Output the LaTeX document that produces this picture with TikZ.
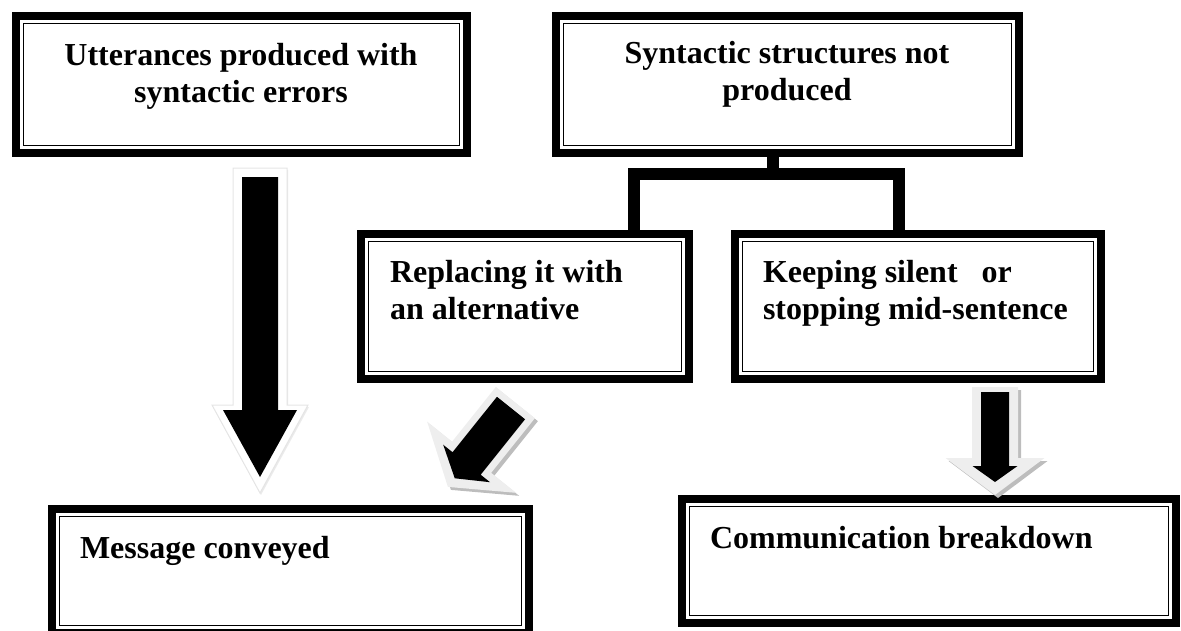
\documentclass[tikz,border=0pt]{standalone}
\usepackage{fontspec}
\setmainfont{Liberation Serif}
\usepackage{tikz}
\usetikzlibrary{positioning}

\definecolor{glowgray}{HTML}{EEEEEE}
\definecolor{shadegray}{HTML}{BDBDBD}

\tikzset{
  box/.style={draw, line width=8pt, inner sep=0pt, outer sep=0pt,
    path picture={\draw[line width=1.6pt]
      ([shift={(7.5pt,-7.5pt)}]path picture bounding box.north west) rectangle
      ([shift={(-7.5pt,7.5pt)}]path picture bounding box.south east);}},
  txt/.style={font=\bfseries\fontsize{32}{37}\selectfont, inner sep=0pt, outer sep=0pt},
  bar/.style={line width=12pt, line join=miter},
}

% block arrow: half shaft, top, head base, half head, tip
\newcommand{\blockarrow}[6][]{%
  \path[#1] (-#2,#3) -- (#2,#3) -- (#2,#4) -- (#5,#4) -- (0,#6)
    -- (-#5,#4) -- (-#2,#4) -- cycle;}

\begin{document}
\begin{tikzpicture}[x=1pt, y=-1pt]
  \useasboundingbox (0,0) rectangle (1181,630);
  \clip (0,0) rectangle (1181,630);

  \node[box, minimum width=451pt, minimum height=137pt] (utter) at (241.5,84.5) {};
  \node[box, minimum width=463pt, minimum height=137pt] (syn)   at (787.5,84.5) {};
  \node[box, minimum width=328pt, minimum height=145pt] (repl)  at (525,306.5)  {};
  \node[box, minimum width=366pt, minimum height=145pt] (keep)  at (918,306.5)  {};
  \node[box, minimum width=477pt, minimum height=124pt] (msg)   at (290.5,571)  {};
  \node[box, minimum width=494pt, minimum height=124pt] (comm)  at (929,561)    {};

  \node[txt, align=center, anchor=base]      (uttertxt) at (241,102) {Utterances produced with\\syntactic errors};
  \node[txt, align=center, anchor=base]      (syntxt)   at (787,100) {Syntactic structures not\\produced};
  \node[txt, align=left,   anchor=base west] (repltxt)  at (390,319) {Replacing it with\\an alternative};
  \node[txt, align=left,   anchor=base west] (keeptxt)  at (763,319) {Keeping silent\ \ \ or\\stopping mid-sentence};
  \node[txt, anchor=base west] (msgtxt)  at (80,558)  {Message conveyed};
  \node[txt, anchor=base west] (commtxt) at (710,548) {Communication breakdown};

  \coordinate (fork) at (773,173.5);
  \coordinate (lft)  at (634,173.5);
  \coordinate (rgt)  at (899,173.5);
  \draw[bar] (syn.south -| fork) -- (fork);
  \draw[bar] (repl.north -| lft) |- (rgt) -- (keep.north -| rgt);

  \begin{scope}[shift={(261,2)}]
    \blockarrow[fill=black!8]{27}{168}{405}{48}{493}
  \end{scope}
  \begin{scope}[shift={(260,0)}]
    \blockarrow[fill=white, draw=black!10, line width=1pt]{27}{168}{405}{48}{493}
    \blockarrow[fill=black]{18}{177}{410}{37}{477}
  \end{scope}

  \begin{scope}[shift={(514,411)}, x={(0.781pt,-0.625pt)}, y={(-0.625pt,-0.781pt)}]
    \blockarrow[fill=shadegray]{25}{-7}{63}{57}{101}
  \end{scope}
  \begin{scope}[shift={(511,408)}, x={(0.781pt,-0.625pt)}, y={(-0.625pt,-0.781pt)}]
    \blockarrow[fill=glowgray]{25}{-7}{63}{57}{101}
    \blockarrow[fill=black]{18}{0}{71}{30}{90}
  \end{scope}

  \begin{scope}[shift={(998,3)}]
    \blockarrow[fill=shadegray]{23}{387}{458}{49.5}{495}
  \end{scope}
  \begin{scope}[shift={(995,0)}]
    \blockarrow[fill=glowgray]{23}{387}{458}{49.5}{495}
    \blockarrow[fill=black]{14}{392}{466}{22.5}{482}
  \end{scope}
\end{tikzpicture}
\end{document}
